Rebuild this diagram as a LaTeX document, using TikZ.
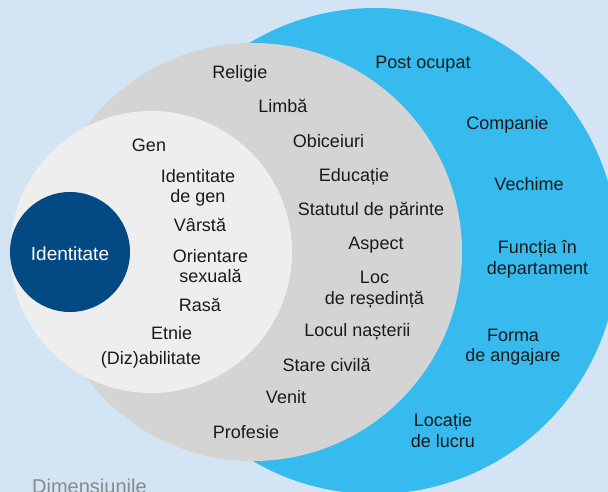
\documentclass[tikz,border=0pt]{standalone}
\usepackage{fontspec}
\setmainfont{Liberation Sans}
\definecolor{bg}{HTML}{D3E5F4}
\definecolor{outerblue}{HTML}{37BBEE}
\definecolor{ringgray}{HTML}{D4D4D4}
\definecolor{innerwhite}{HTML}{EEEEEE}
\definecolor{coreblue}{HTML}{034A84}
\definecolor{txt}{HTML}{1A1A1A}
\definecolor{captiongray}{HTML}{8A8A8A}
\begin{document}
\begin{tikzpicture}[x=1pt,y=-1pt,
  lbl/.style={font=\fontsize{18}{20.5}\selectfont, text=txt, inner sep=0pt, anchor=base, align=center},
  disc/.style={circle, inner sep=0pt, minimum size=#1, draw=none}]
\useasboundingbox (0,0) rectangle (608,492);
\clip (0,0) rectangle (608,492);
\fill[bg] (0,0) rectangle (608,492);
% circles
\node[disc=486pt, fill=outerblue] (work) at (375,251) {};
\node[disc=418pt, fill=ringgray] (external) at (253,252) {};
\node[disc=282pt, fill=innerwhite] (internal) at (151,252) {};
\node[disc=120pt, fill=coreblue] (core) at (70,252) {};
% core
\node[lbl, text=white, font=\fontsize{19}{22}\selectfont] (identitate) at (70,260) {Identitate};
% internal dimension (base = last line)
\node[lbl] (gen) at (149,151.7) {Gen};
\node[lbl] (idgen) at (198,202.7) {Identitate\\de gen};
\node[lbl] (varsta) at (200,231.6) {Vârstă};
\node[lbl] (orient) at (210.5,282.7) {Orientare\\sexuală};
\node[lbl] (rasa) at (200,311.7) {Rasă};
\node[lbl] (etnie) at (171.7,339.2) {Etnie};
\node[lbl] (diz) at (150.8,364.4) {(Diz)abilitate};
% external dimension
\node[lbl] (religie) at (240,79) {Religie};
\node[lbl] (limba) at (283,112.5) {Limbă};
\node[lbl] (obiceiuri) at (328.5,147.6) {Obiceiuri};
\node[lbl] (educatie) at (354,181.7) {Educație};
\node[lbl] (parinte) at (371,215.6) {Statutul de părinte};
\node[lbl] (aspect) at (376,249.4) {Aspect};
\node[lbl] (resedinta) at (374.5,304.2) {Loc\\de reședință};
\node[lbl] (nasterii) at (357.5,336.6) {Locul nașterii};
\node[lbl] (civila) at (326.7,371.9) {Stare civilă};
\node[lbl] (venit) at (286,403) {Venit};
\node[lbl] (profesie) at (246,438.6) {Profesie};
% organisational dimension
\node[lbl] (post) at (423,68.4) {Post ocupat};
\node[lbl] (companie) at (507.5,129.4) {Companie};
\node[lbl] (vechime) at (529,190.4) {Vechime};
\node[lbl] (functia) at (537.5,274.4) {Funcția în\\departament};
\node[lbl] (forma) at (513,361.9) {Forma\\de angajare};
\node[lbl] (locatie) at (443,447.4) {Locație\\de lucru};
% caption
\node[font=\fontsize{20}{24}\selectfont, text=captiongray, inner sep=0pt, anchor=base west] (caption) at (32,493.5) {Dimensiunile};
\end{tikzpicture}
\end{document}
